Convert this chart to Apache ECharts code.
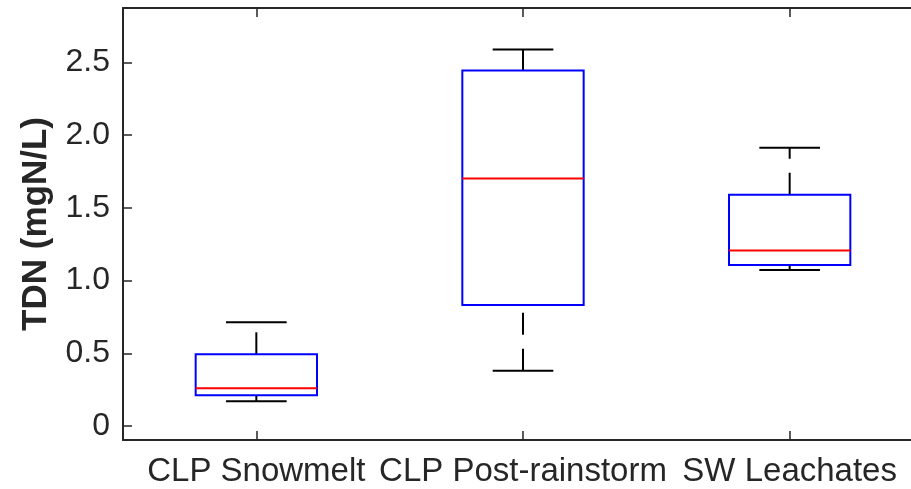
<!DOCTYPE html>
<html>
<head>
<meta charset="utf-8">
<style>
  html, body { margin: 0; padding: 0; background: #fff; }
  #chart { width: 911px; height: 489px; }
</style>
<script src="https://cdn.jsdelivr.net/npm/echarts@6/dist/echarts.min.js"></script>
</head>
<body>
<div id="chart"></div>
<script>
// Groups and their five-number summaries (TDN, mgN/L)
const categories = ['CLP Snowmelt', 'CLP Post-rainstorm', 'SW Leachates'];
const lowerWhisker = [0.170, 0.380, 1.073];
const q1 = [0.211, 0.832, 1.107];
const median = [0.259, 1.701, 1.206];
const q3 = [0.493, 2.444, 1.589];
const upperWhisker = [0.713, 2.588, 1.912];
const yTicks = [0, 0.5, 1.0, 1.5, 2.0, 2.5];

const boxData = categories.map((c, i) => [i, lowerWhisker[i], q1[i], median[i], q3[i], upperWhisker[i]]);

const axisColor = '#262626';
const font = '"Liberation Sans", Arial, Helvetica, sans-serif';

function renderBox(params, api) {
  const i = api.value(0);
  const pLo = api.coord([i, api.value(1)]);
  const pQ1 = api.coord([i, api.value(2)]);
  const pMed = api.coord([i, api.value(3)]);
  const pQ3 = api.coord([i, api.value(4)]);
  const pHi = api.coord([i, api.value(5)]);
  const band = api.size([1, 0])[0];
  const boxW = band * 0.455;
  const capW = boxW / 2;
  const x = pMed[0];
  const dash = { stroke: '#000', lineWidth: 2, lineDash: [22, 14] };
  const solid = { stroke: '#000', lineWidth: 2 };
  return {
    type: 'group',
    children: [
      // whiskers drawn upward from the lower end
      { type: 'line', shape: { x1: x, y1: pLo[1], x2: x, y2: pQ1[1] }, style: dash },
      { type: 'line', shape: { x1: x, y1: pQ3[1], x2: x, y2: pHi[1] }, style: dash },
      { type: 'line', shape: { x1: x - capW / 2, y1: pLo[1], x2: x + capW / 2, y2: pLo[1] }, style: solid },
      { type: 'line', shape: { x1: x - capW / 2, y1: pHi[1], x2: x + capW / 2, y2: pHi[1] }, style: solid },
      { type: 'rect', shape: { x: x - boxW / 2, y: pQ3[1], width: boxW, height: pQ1[1] - pQ3[1] },
        style: { fill: null, stroke: '#0000ff', lineWidth: 2 } },
      { type: 'line', shape: { x1: x - boxW / 2, y1: pMed[1], x2: x + boxW / 2, y2: pMed[1] },
        style: { stroke: '#ff0000', lineWidth: 2 } }
    ]
  };
}

const chart = echarts.init(document.getElementById('chart'), null, { renderer: 'canvas' });
chart.setOption({
  animation: false,
  backgroundColor: '#ffffff',
  grid: { left: 123, top: 8, width: 800, height: 432, containLabel: false, outerBoundsMode: 'none' },
  xAxis: [{
    type: 'category',
    data: categories,
    boundaryGap: true,
    position: 'bottom',
    axisLine: { show: true, onZero: false, lineStyle: { color: axisColor, width: 2 } },
    axisTick: { show: true, inside: true, alignWithLabel: true, length: 9, lineStyle: { color: axisColor, width: 1.5 } },
    axisLabel: { show: true, interval: 0, hideOverlap: false, color: '#262626', fontFamily: font, fontSize: 33, margin: 15 },
    splitLine: { show: false }
  }, {
    type: 'category',
    data: categories,
    boundaryGap: true,
    position: 'top',
    axisLine: { show: true, onZero: false, lineStyle: { color: axisColor, width: 2 } },
    axisTick: { show: true, inside: true, alignWithLabel: true, length: 9, lineStyle: { color: axisColor, width: 1.5 } },
    axisLabel: { show: false },
    splitLine: { show: false }
  }],
  yAxis: {
    type: 'value',
    min: -0.096,
    max: 2.873,
    name: 'TDN (mgN/L)',
    nameLocation: 'middle',
    nameGap: 69,
    nameRotate: 90,
    nameTextStyle: { color: '#262626', fontFamily: font, fontSize: 35, fontWeight: 'bold' },
    axisLine: { show: true, onZero: false, lineStyle: { color: axisColor, width: 2 } },
    axisTick: { show: true, inside: true, length: 9, customValues: yTicks, lineStyle: { color: axisColor, width: 1.5 } },
    axisLabel: {
      show: true, color: '#262626', fontFamily: font, fontSize: 32, margin: 13,
      customValues: yTicks,
      formatter: v => (v === 0 ? '0' : v.toFixed(1))
    },
    splitLine: { show: false }
  },
  series: [{
    type: 'custom',
    xAxisIndex: 0,
    renderItem: renderBox,
    encode: { x: 0, y: [1, 2, 3, 4, 5] },
    data: boxData,
    clip: false
  }]
});
</script>
</body>
</html>
